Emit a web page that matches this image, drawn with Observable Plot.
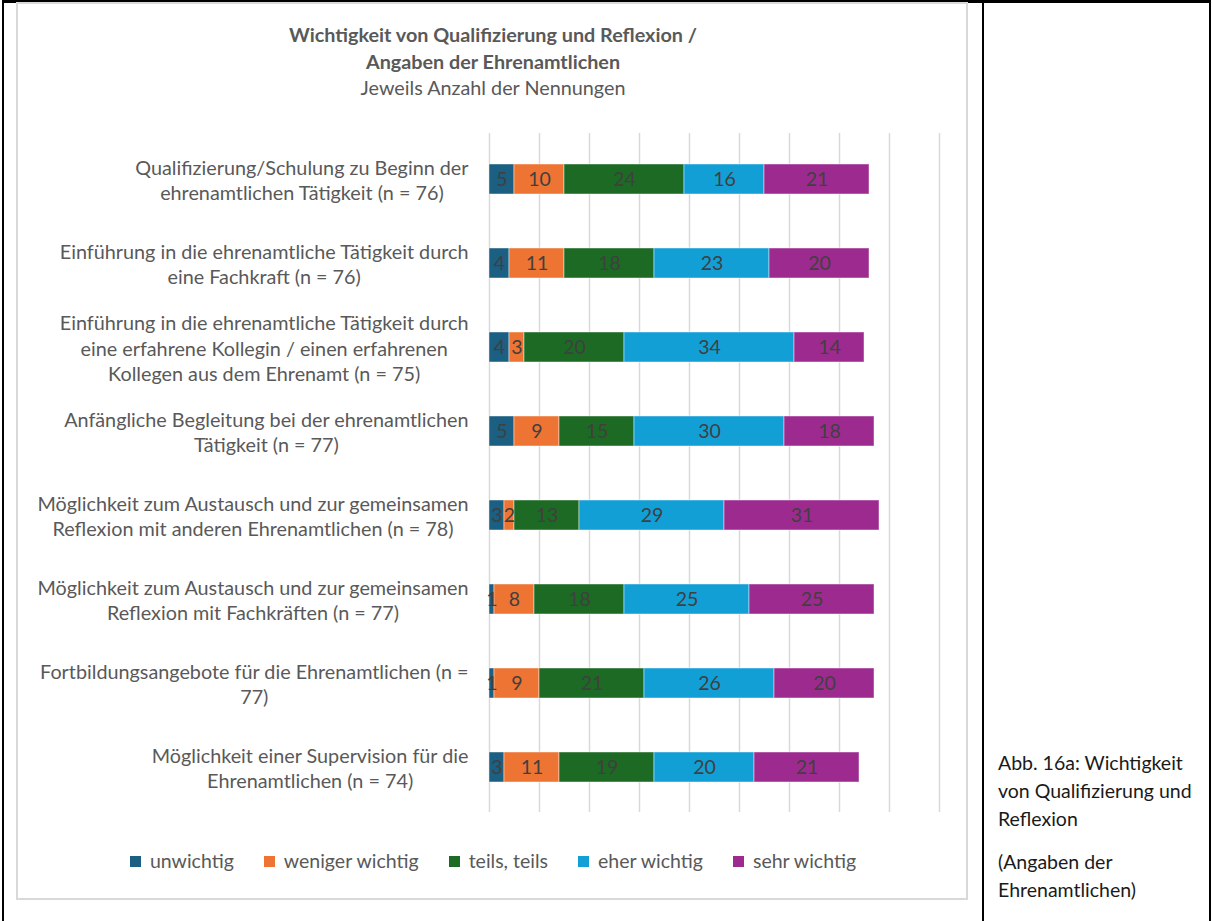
<!DOCTYPE html>
<html><head><meta charset="utf-8">
<script src="https://cdn.jsdelivr.net/npm/d3@7"></script>
<script src="https://cdn.jsdelivr.net/npm/@observablehq/plot@0.6"></script>
<style>
html,body{margin:0;padding:0;background:#fff;}
#page{position:relative;width:1212px;height:921px;overflow:hidden;font-family:Lato,"Open Sans",sans-serif;}
.line{position:absolute;background:#000;}
#box{position:absolute;left:16px;top:2px;width:948px;height:894px;border:2px solid #d9d9d9;}
#title{position:absolute;left:18px;top:21px;width:950px;text-align:center;color:#595959;font-size:19.8px;line-height:26.5px;}
#title b{font-weight:700;}
#chart{position:absolute;left:18px;top:120px;}
#legend{position:absolute;left:18px;top:848px;width:950px;display:flex;justify-content:center;gap:30px;color:#595959;font-size:19.5px;line-height:26px;}
#legend .it{display:flex;align-items:center;gap:9px;}
#legend .sw{width:11px;height:11px;display:inline-block;}
#caption{position:absolute;left:998px;top:749px;width:212px;color:#1a1a1a;font-size:19.5px;line-height:28px;}
#caption p{margin:0 0 15px 0;}
</style></head><body><div id="page">
<div class="line" style="left:2px;top:0;width:1209px;height:3px"></div>
<div class="line" style="left:2px;top:0;width:2px;height:921px"></div>
<div class="line" style="left:982px;top:0;width:2px;height:921px"></div>
<div class="line" style="left:1209px;top:0;width:2px;height:921px"></div>
<div id="box"></div>
<div id="title"><b>Wichtigkeit von Qualifizierung und Reflexion /</b><br><b>Angaben der Ehrenamtlichen</b><br>Jeweils Anzahl der Nennungen</div>
<div id="chart"></div>
<div id="legend"></div>
<div id="caption"><p>Abb. 16a: Wichtigkeit<br>von Qualifizierung und<br>Reflexion</p><p>(Angaben der<br>Ehrenamtlichen)</p></div>
</div>
<script>
const categories = [
  "Qualifizierung/Schulung zu Beginn der\nehrenamtlichen Tätigkeit (n = 76)",
  "Einführung in die ehrenamtliche Tätigkeit durch\neine Fachkraft (n = 76)",
  "Einführung in die ehrenamtliche Tätigkeit durch\neine erfahrene Kollegin / einen erfahrenen\nKollegen aus dem Ehrenamt (n = 75)",
  "Anfängliche Begleitung bei der ehrenamtlichen\nTätigkeit (n = 77)",
  "Möglichkeit zum Austausch und zur gemeinsamen\nReflexion mit anderen Ehrenamtlichen (n = 78)",
  "Möglichkeit zum Austausch und zur gemeinsamen\nReflexion mit Fachkräften (n = 77)",
  "Fortbildungsangebote für die Ehrenamtlichen (n =\n77)",
  "Möglichkeit einer Supervision für die\nEhrenamtlichen (n = 74)"
];
const series = ["unwichtig", "weniger wichtig", "teils, teils", "eher wichtig", "sehr wichtig"];
const unwichtig      = [5, 4, 4, 5, 3, 1, 1, 3];
const wenigerWichtig = [10, 11, 3, 9, 2, 8, 9, 11];
const teilsTeils     = [24, 18, 20, 15, 13, 18, 21, 19];
const eherWichtig    = [16, 23, 34, 30, 29, 25, 26, 20];
const sehrWichtig    = [21, 20, 14, 18, 31, 25, 20, 21];
const colors = ["#1b5f82", "#ed7433", "#1c6a24", "#129fd6", "#9d2b8f"];
const xTicks = [0, 10, 20, 30, 40, 50, 60, 70, 80, 90];

const valuesBySeries = [unwichtig, wenigerWichtig, teilsTeils, eherWichtig, sehrWichtig];
const data = [];
categories.forEach((cat, i) => {
  series.forEach((s, j) => data.push({cat, series: s, value: valuesBySeries[j][i]}));
});

const plot = Plot.plot({
  width: 950, height: 700,
  marginLeft: 471, marginRight: 29, marginTop: 13, marginBottom: 8,
  x: {domain: [0, 90], axis: null},
  y: {domain: categories, paddingInner: 0.645, paddingOuter: 0.3225, label: null},
  color: {domain: series, range: colors},
  style: {fontFamily: "Lato, 'Open Sans', sans-serif", background: "transparent", overflow: "visible"},
  marks: [
    Plot.ruleX(xTicks, {stroke: "#d9d9d9", strokeWidth: 1.5, y1: null, y2: null}),
    Plot.barX(data, {x: "value", y: "cat", z: "series", fill: "series", stroke: "#ffffff", strokeOpacity: 0.45, strokeWidth: 1}),
    Plot.text(data, Plot.stackX({x: "value", y: "cat", z: "series", text: d => String(d.value), fill: "#404040", fontSize: 19.5})),
    Plot.axisY({tickSize: 0, tickPadding: 21, fontSize: 19.8, lineHeight: 1.27, color: "#595959", textAnchor: "end", label: null})
  ]
});
document.getElementById("chart").appendChild(plot);

// center the lines of each multi-line label within its right-aligned block
plot.querySelectorAll('g[aria-label="y-axis tick label"] text').forEach(t => {
  const spans = Array.from(t.querySelectorAll("tspan"));
  if (spans.length < 2) return;
  const widths = spans.map(s => s.getComputedTextLength());
  const W = Math.max(...widths);
  const x0 = parseFloat(spans[0].getAttribute("x")) || 0;
  spans.forEach((s, k) => s.setAttribute("x", x0 - (W - widths[k]) / 2));
});

const legend = document.getElementById("legend");
series.forEach((s, j) => {
  const it = document.createElement("div");
  it.className = "it";
  it.innerHTML = `<span class="sw" style="background:${colors[j]}"></span><span>${s}</span>`;
  legend.appendChild(it);
});
</script>
</body></html>
